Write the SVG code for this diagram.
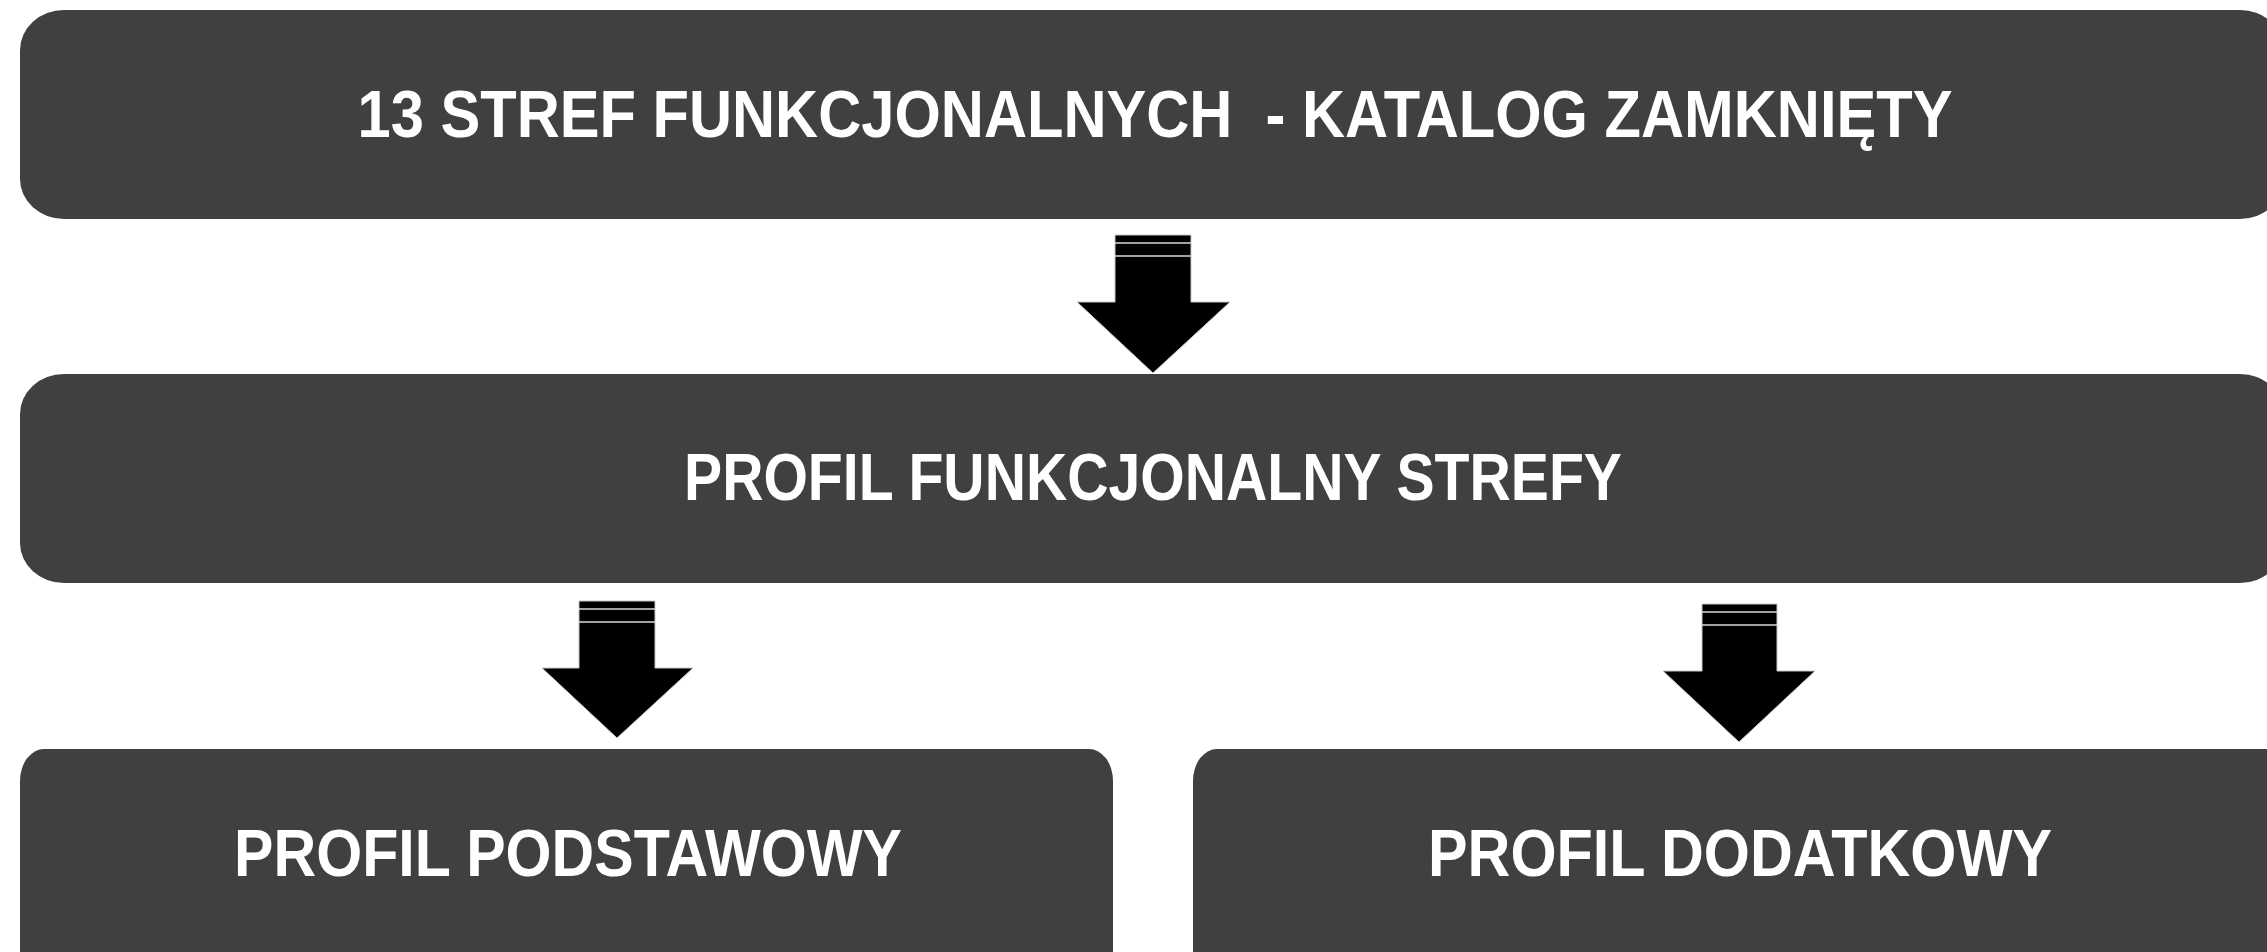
<svg xmlns="http://www.w3.org/2000/svg" width="2267" height="952" viewBox="0 0 2267 952">
<style>
.box{fill:#404040;}
.lbl{fill:#ffffff;font-family:"Liberation Sans",Arial,sans-serif;font-weight:bold;font-size:66px;text-anchor:middle;}
.arr{fill:#000000;stroke:#c8c8c8;stroke-width:1;}
.stripe{stroke:#d8d8d8;stroke-width:1.5;}
</style>
<rect width="2267" height="952" fill="#ffffff"/>
<g id="connectors">
  <g id="arrow1">
    <polygon class="arr" points="1115,235 1191,235 1191,302 1230,302 1153,373 1077,302 1115,302"/>
    <line class="stripe" x1="1115" y1="243" x2="1191" y2="243"/>
    <line class="stripe" x1="1115" y1="256" x2="1191" y2="256"/>
  </g>
  <g id="arrow2">
    <polygon class="arr" points="579,601 655,601 655,668 693,668 617,738 542,668 579,668"/>
    <line class="stripe" x1="579" y1="609" x2="655" y2="609"/>
    <line class="stripe" x1="579" y1="622" x2="655" y2="622"/>
  </g>
  <g id="arrow3">
    <polygon class="arr" points="1702,604 1777,604 1777,671 1815,671 1739,742 1663,671 1702,671"/>
    <line class="stripe" x1="1702" y1="612" x2="1777" y2="612"/>
    <line class="stripe" x1="1702" y1="625" x2="1777" y2="625"/>
  </g>
</g>
<g id="node-katalog">
  <rect class="box" x="20" y="10" width="2264" height="209" rx="44" ry="40"/>
  <text class="lbl" x="1155" y="137" textLength="1595" lengthAdjust="spacingAndGlyphs" xml:space="preserve">13 STREF FUNKCJONALNYCH  - KATALOG ZAMKNIĘTY</text>
</g>
<g id="node-profil-strefy">
  <rect class="box" x="20" y="374" width="2264" height="209" rx="44" ry="40"/>
  <text class="lbl" x="1153" y="500" textLength="938" lengthAdjust="spacingAndGlyphs">PROFIL FUNKCJONALNY STREFY</text>
</g>
<g id="node-podstawowy">
  <rect class="box" x="20" y="749" width="1093" height="240" rx="24" ry="32"/>
  <text class="lbl" x="568" y="876" textLength="668" lengthAdjust="spacingAndGlyphs">PROFIL PODSTAWOWY</text>
</g>
<g id="node-dodatkowy">
  <rect class="box" x="1193" y="749" width="1110" height="240" rx="24" ry="32"/>
  <text class="lbl" x="1740" y="876" textLength="624" lengthAdjust="spacingAndGlyphs">PROFIL DODATKOWY</text>
</g>
</svg>
